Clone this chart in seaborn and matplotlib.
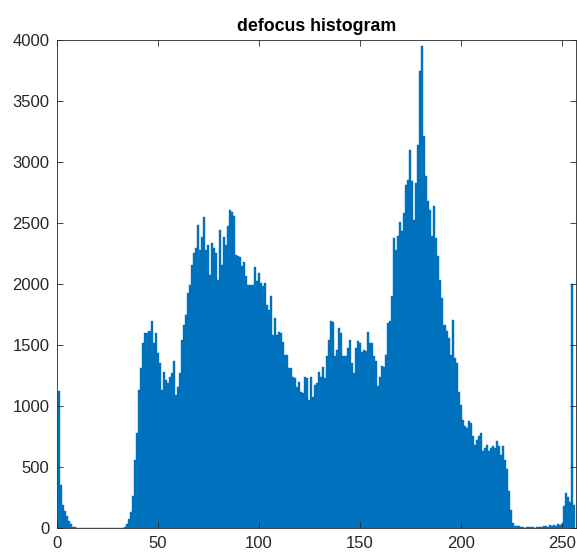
import numpy as np
import seaborn as sns
import matplotlib
matplotlib.use("Agg")
import matplotlib.pyplot as plt

# 灰度级 1..256 (MATLAB 风格下标)
levels = np.arange(1, 257)

# 各灰度级的像素计数
counts_0_37 = [1125, 350, 190, 135, 95, 55, 28, 10, 5, 3, 1, 0, 0, 0, 0, 0,
               0, 0, 0, 0, 0, 0, 0, 0, 0, 0, 0, 0, 0, 0, 0, 1, 2, 10, 30, 75,
               130, 260]
counts_38_75 = [560, 776, 1131, 1311, 1516, 1598, 1600, 1610, 1691, 1516,
                1598, 1434, 1352, 1131, 1273, 1213, 1186, 1240, 1268, 1363,
                1090, 1158, 1268, 1541, 1664, 1746, 1924, 1992, 2156, 2250,
                2291, 2483, 2277, 2387, 2550, 2277, 2318, 2072]
counts_76_112 = [2333, 2292, 2251, 2033, 2443, 2156, 2383, 2320, 2470, 2607,
                 2585, 2557, 2238, 2230, 2219, 2142, 2175, 2060, 1992, 1992,
                 1992, 2137, 2019, 2087, 2005, 1981, 2005, 1828, 1787, 1896,
                 1582, 1719, 1582, 1601, 1596, 1519, 1420]
counts_113_149 = [1418, 1309, 1309, 1240, 1227, 1158, 1199, 1117, 1104, 1240,
                  1227, 1049, 1240, 1076, 1172, 1186, 1281, 1240, 1322, 1227,
                  1404, 1541, 1691, 1683, 1404, 1459, 1637, 1596, 1404, 1404,
                  1473, 1541, 1350, 1268, 1473, 1527, 1514]
counts_150_186 = [1437, 1454, 1446, 1601, 1514, 1514, 1404, 1363, 1164, 1240,
                  1328, 1317, 1418, 1678, 1691, 1902, 2374, 2279, 2388, 2503,
                  2429, 2579, 2811, 2852, 3098, 2839, 2525, 2825, 3139, 3740,
                  3951, 3208, 2880, 2675, 2607, 2388, 2634]
counts_187_225 = [2374, 2224, 2033, 1883, 1664, 1609, 1555, 1418, 1705, 1391,
                  1350, 1117, 1008, 885, 831, 817, 872, 858, 749, 680,
                  721, 749, 776, 626, 653, 680, 626, 653, 667, 653,
                  708, 667, 598, 667, 560, 480, 300, 150, 40]
counts_226_255 = [12, 18, 15, 8, 5, 3, 6, 10, 4, 6, 2, 8, 10, 5, 12, 15,
                  10, 20, 15, 25, 18, 30, 20, 28, 180, 285, 255, 215, 2000, 190]

counts = (counts_0_37 + counts_38_75 + counts_76_112 + counts_113_149
          + counts_150_186 + counts_187_225 + counts_226_255)

bar_color = "#0072BD"
axis_color = "#262626"

plt.rcParams['font.family'] = ['Liberation Sans', 'DejaVu Sans']

fig = plt.figure(figsize=(5.77, 5.58), dpi=100)
ax = fig.add_axes([0.098, 0.054, 0.900, 0.875])

sns.barplot(x=levels, y=counts, native_scale=True, width=1, color=bar_color,
            saturation=1, linewidth=0.3, edgecolor=bar_color, errorbar=None, ax=ax)

ax.set_xlim(0, 257)
ax.set_ylim(0, 4000)
ax.set_xticks(range(0, 251, 50))
ax.set_xticklabels([str(v) for v in range(0, 251, 50)])
ax.set_yticks(range(0, 4001, 500))
ax.set_xlabel("")
ax.set_ylabel("")
ax.set_title("defocus histogram", fontsize=12.8, fontweight='bold', pad=6)

ax.tick_params(direction='in', length=4, width=0.6, colors=axis_color,
               labelsize=12, top=True, right=True, labeltop=False, labelright=False)
ax.tick_params(axis='x', pad=6)
ax.tick_params(axis='y', pad=5)
for spine in ax.spines.values():
    spine.set_edgecolor(axis_color)
    spine.set_linewidth(0.6)

fig.savefig("out.png", dpi=100)
